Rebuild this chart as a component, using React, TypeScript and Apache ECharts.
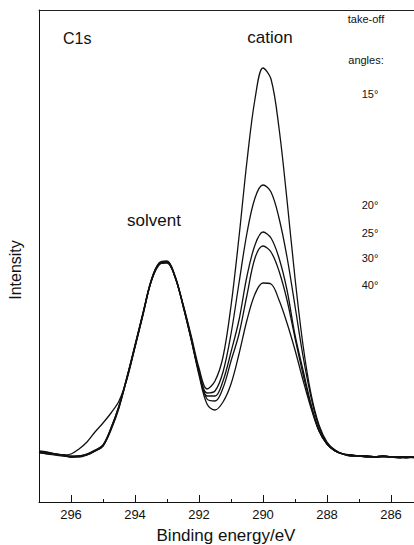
import React, { useEffect, useRef } from "react";
import * as echarts from "echarts";

// Binding energy (eV), x axis runs right-to-left
const energies = [
  297, 296.75, 296.5, 296.25, 296, 295.75, 295.5, 295.25, 295, 294.75, 294.5, 294.25,
  294, 293.75, 293.5, 293.25, 293, 292.75, 292.5, 292.25, 292, 291.75, 291.5, 291.25,
  291, 290.75, 290.5, 290.25, 290, 289.75, 289.5, 289.25, 289, 288.75, 288.5, 288.25,
  288, 287.75, 287.5, 287.25, 287, 286.75, 286.5, 286.25, 286, 285.75, 285.5, 285.25,
];

// Intensity (arbitrary units) for each take-off angle
const angle15 = [
  51, 50, 48, 47, 48, 53, 60, 70, 79, 89, 101, 123, 155, 188, 220, 238, 240, 225, 198,
  167, 134, 113, 121, 145, 196, 265, 341, 403, 434, 423, 374, 302, 224, 157, 108, 77, 60, 52, 48,
  47, 46, 46, 45, 46, 45, 45, 45, 45,
];
const angle20 = [
  50, 49, 48, 47, 45, 46, 48, 52, 57, 74, 96, 125, 156, 188, 220, 238, 240, 225, 197,
  165, 131, 109, 111, 130, 168, 219, 269, 304, 317, 310, 284, 245, 196, 146, 105, 75, 59, 52, 48,
  46, 46, 45, 45, 46, 45, 44, 45, 45,
];
const angle25 = [
  50, 49, 48, 47, 46, 46, 48, 51, 56, 73, 95, 124, 156, 189, 221, 239, 241, 226, 197,
  164, 130, 106, 106, 121, 150, 182, 226, 257, 270, 264, 244, 212, 167, 132, 98, 72, 58, 51, 48,
  47, 46, 46, 45, 45, 45, 45, 44, 45,
];
const angle30 = [
  49, 49, 48, 47, 45, 46, 47, 51, 56, 72, 94, 124, 155, 187, 220, 237, 240, 226, 197,
  164, 129, 103, 101, 114, 141, 168, 207, 244, 256, 250, 231, 202, 164, 128, 96, 71, 58, 51, 48,
  46, 46, 46, 45, 46, 45, 45, 45, 44,
];
const angle40 = [
  50, 48, 47, 46, 45, 45, 47, 51, 57, 74, 96, 125, 157, 189, 221, 238, 239, 225, 196,
  163, 127, 98, 92, 100, 118, 148, 182, 208, 219, 218, 202, 179, 152, 122, 94, 71, 58, 51, 48,
  47, 46, 45, 45, 46, 45, 45, 45, 45,
];

const seriesNames = ["15°", "20°", "25°", "30°", "40°"];
const seriesValues = [angle15, angle20, angle25, angle30, angle40];
const angleLabelY = [94, 205, 233, 258, 285];

const majorTicks = [286, 288, 290, 292, 294, 296];
const minorTicks = [287, 289, 291, 293, 295];
const xMax = 297;
const xMin = 285.28125;

const FONT = "'Liberation Sans', Arial, Helvetica, sans-serif";

export default function App() {
  const ref = useRef<HTMLDivElement>(null);

  useEffect(() => {
    if (!ref.current) return;
    const chart = echarts.init(ref.current, null, { renderer: "svg" });

    const series = seriesValues.map((vals, i) => ({
      type: "line",
      name: seriesNames[i],
      xAxisIndex: 0,
      yAxisIndex: 0,
      data: energies.map((e, j) => [e, vals[j]]),
      smooth: 0.35,
      symbol: "none",
      lineStyle: { color: "#111", width: 1.3 },
      z: 3,
    }));

    const txt = (text: string, x: number, y: number, size: number, align = "center", extra: any = {}) => ({
      type: "text",
      x,
      y,
      ...extra,
      style: {
        text,
        fontSize: size,
        fontFamily: FONT,
        fill: "#111",
        align,
        verticalAlign: "middle",
        textAlign: align,
        textVerticalAlign: "middle",
      },
    });

    const graphics: any[] = [
      txt("C1s", 63, 38, 16, "left"),
      txt("cation", 270, 37, 17),
      txt("solvent", 154, 220, 17),
      txt("take-off", 366, 19, 11),
      txt("angles:", 366, 60, 11),
      ...seriesNames.map((n, i) => txt(n, 370, angleLabelY[i], 11)),
      txt("Binding energy/eV", 226, 535, 17),
      txt("Intensity", 15, 270, 16, "center", { rotation: Math.PI / 2 }),
    ];

    const baseX = {
      type: "value",
      min: xMin,
      max: xMax,
      inverse: true,
      splitLine: { show: false },
    };

    chart.setOption({
      animation: false,
      backgroundColor: "#fff",
      grid: { left: 39, top: 10, right: 0, bottom: 43, show: false },
      xAxis: [
        {
          ...baseX,
          position: "bottom",
          axisLine: { show: true, onZero: false, lineStyle: { color: "#111", width: 1 } },
          axisTick: {
            show: true,
            inside: true,
            length: 7,
            customValues: majorTicks,
            lineStyle: { color: "#111", width: 1 },
          },
          axisLabel: {
            show: true,
            color: "#111",
            fontSize: 13,
            fontFamily: FONT,
            margin: 6,
            customValues: majorTicks,
          },
        },
        {
          ...baseX,
          position: "bottom",
          axisLine: { show: false },
          axisTick: {
            show: true,
            inside: true,
            length: 3,
            customValues: minorTicks,
            lineStyle: { color: "#111", width: 1 },
          },
          axisLabel: { show: false },
        },
        {
          ...baseX,
          position: "top",
          axisLine: { show: true, onZero: false, lineStyle: { color: "#222", width: 1 } },
          axisTick: { show: false },
          axisLabel: { show: false },
        },
      ],
      yAxis: {
        type: "value",
        min: 0,
        max: 492,
        position: "left",
        axisLine: { show: true, onZero: false, lineStyle: { color: "#111", width: 1 } },
        axisTick: { show: false },
        axisLabel: { show: false },
        splitLine: { show: false },
      },
      series,
      graphic: graphics,
    });

    return () => chart.dispose();
  }, []);

  return (
    <div
      ref={ref}
      style={{ position: "fixed", left: 0, top: 0, width: 414, height: 545, background: "#fff" }}
    />
  );
}
